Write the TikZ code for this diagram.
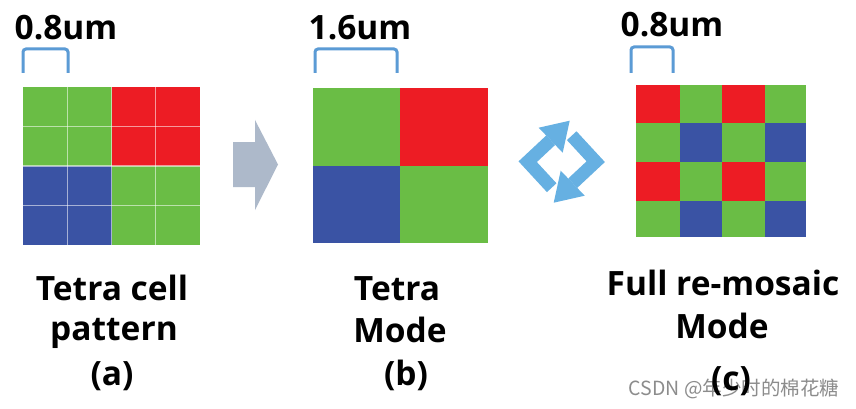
\documentclass[tikz,border=0pt]{standalone}
\usepackage{fontspec}
\setmainfont{Open Sans}
\newfontfamily\cjk{Noto Sans CJK SC}
\definecolor{cG}{HTML}{6ABD45}
\definecolor{cR}{HTML}{ED1C24}
\definecolor{cB}{HTML}{3A53A4}
\definecolor{cArrow}{HTML}{ADB9CA}
\definecolor{cBrk}{HTML}{5B9BD5}
\definecolor{cIcon}{HTML}{66B0E2}
\definecolor{cWm}{HTML}{8C8C8C}
\tikzset{
  lbl/.style={font=\bfseries\fontsize{33.5}{38}\selectfont, anchor=base, inner sep=0pt, text=black},
  brk/.style={draw=cBrk, line width=3pt, rounded corners=3pt},
  gridline/.style={draw=white, draw opacity=0.55, line width=1.3pt}
}
\begin{document}
\begin{tikzpicture}[x=1pt,y=-1pt]
\useasboundingbox[fill=white] (0,0) rectangle (856,409);

% ---------- (a) Tetra cell pattern ----------
\fill[cG] (23,87) rectangle (111.5,166);
\fill[cR] (111.5,87) rectangle (200,166);
\fill[cB] (23,166) rectangle (111.5,245);
\fill[cG] (111.5,166) rectangle (200,245);
\foreach \x in {67.25,111.5,155.75} \draw[gridline] (\x,87) -- (\x,245);
\foreach \y in {126.5,166,205.5} \draw[gridline] (23,\y) -- (200,\y);
\draw[brk] (23,73) -- (23,49) -- (68,49) -- (68,73);
\node[lbl] (sa) at (66,40) {0.8um};
\node[lbl] (ta1) at (112,300) {Tetra cell};
\node[lbl] (ta2) at (114,340) {pattern};
\node[lbl] (ta3) at (112,385) {(a)};

% ---------- arrow a -> b ----------
\fill[cArrow] (233,142) -- (255,142) -- (255,120) -- (278,164.5) -- (255,210) -- (255,187) -- (233,187) -- cycle;

% ---------- (b) Tetra Mode ----------
\fill[cG] (313,88) rectangle (400,166);
\fill[cR] (400,88) rectangle (488,166);
\fill[cB] (313,166) rectangle (400,243);
\fill[cG] (400,166) rectangle (488,243);
\draw[brk] (315,73) -- (315,49) -- (397,49) -- (397,73);
\node[lbl] (sb) at (360,40) {1.6um};
\node[lbl] (tb1) at (397,300) {Tetra};
\node[lbl] (tb2) at (400,342) {Mode};
\node[lbl] (tb3) at (406,385) {(b)};

% ---------- rotating arrows icon ----------
\begin{scope}[shift={(561.7,161.7)}]
  \draw[cIcon, line width=13pt, line join=miter] (-10,26) -- (-34,0) -- (-11,-21.5);
  \fill[cIcon] (-23,-34) -- (8,-41) -- (1,-9) -- cycle;
  \draw[cIcon, line width=13pt, line join=miter] (10,-26) -- (34,0) -- (11,21.5);
  \fill[cIcon] (23,34) -- (-8,41) -- (-1,9) -- cycle;
\end{scope}

% ---------- (c) Full re-mosaic Mode ----------
\foreach \r/\ya/\yb in {0/85/123,1/123/162,2/162/201,3/201/237}{
  \foreach \c/\xa/\xb in {0/636/680,1/680/722,2/722/765,3/765/806}{
    \pgfmathtruncatemacro{\rr}{mod(\r,2)}
    \pgfmathtruncatemacro{\cc}{mod(\c,2)}
    \ifnum\rr=0
      \ifnum\cc=0 \def\col{cR}\else \def\col{cG}\fi
    \else
      \ifnum\cc=0 \def\col{cG}\else \def\col{cB}\fi
    \fi
    \fill[\col] (\xa,\ya) rectangle (\xb,\yb);
  }
}
\draw[brk] (631,73) -- (631,47) -- (673,47) -- (673,73);
\node[lbl] (sc) at (672,37) {0.8um};
\node[lbl] (tc1) at (723,295) {Full re-mosaic};
\node[lbl] (tc2) at (722,338) {Mode};
\node[anchor=base, inner sep=0pt, text=cWm, font=\cjk\fontsize{19.5}{22}\selectfont] (wm) at (734,395) {CSDN @年少时的棉花糖};
\node[lbl] (tc3) at (731,390) {(c)};
\end{tikzpicture}
\end{document}
